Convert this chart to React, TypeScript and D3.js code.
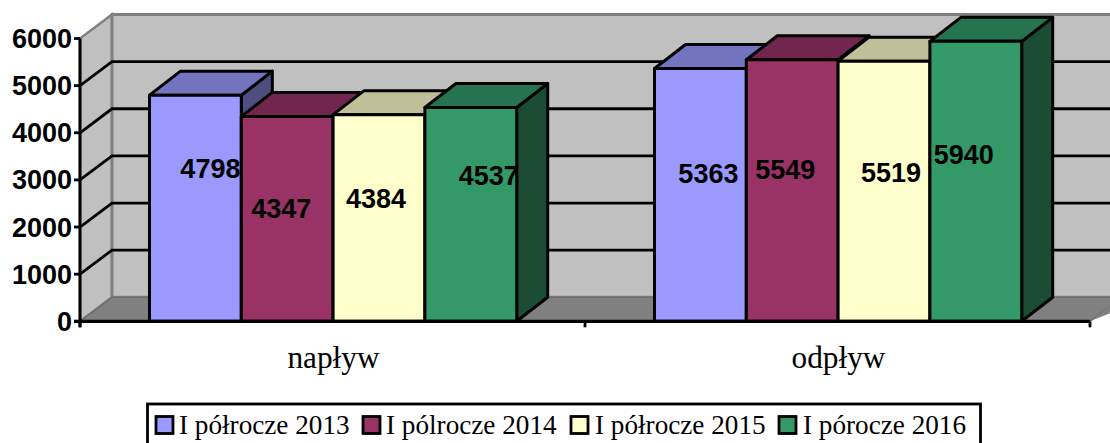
import React from "react";
import * as d3 from "d3";

const categories = ["napływ", "odpływ"];
const seriesNames = ["I półrocze 2013", "I pólrocze 2014", "I półrocze 2015", "I pórocze 2016"];
const values2013 = [4798, 5363];
const values2014 = [4347, 5549];
const values2015 = [4384, 5519];
const values2016 = [4537, 5940];
const seriesValues = [values2013, values2014, values2015, values2016];
const yTicks = [0, 1000, 2000, 3000, 4000, 5000, 6000];
const colors = ["#9999FF", "#993366", "#FFFFCC", "#339966"];
const topColors = ["#7373BF", "#73264D", "#BFBF99", "#267350"];
const sideColors = ["#4D4D80", "#4D1A33", "#808066", "#1A4D33"];
// label offset from the front-face centre and bar mid-height [dx, dy]
const labelNudges = [
  [[15, -39], [8, -21]],
  [[-6, -10], [-7, -21]],
  [[-3, -19], [7, -18]],
  [[18, -38], [-12, -26]],
];
const legendSwatchX = [156, 363, 571, 779];
const legendTextX = [179, 386, 595, 803];

const W = 1110, H = 443;
const x0 = 80, x1 = 1090, DX = 32, DY = 24;
const y = d3.scaleLinear().domain([0, 6000]).range([321.3, 38.5]);
const xCat = d3.scaleBand<string>().domain(categories).range([x0, x1]);
const barW = 91.8;
const pts = (a: number[][]) => a.map((p) => p.join(",")).join(" ");

export default function App() {
  const back = y(6000) - DY;
  const floor = y(0) - DY;
  return (
    <svg width={W} height={H} style={{ position: "absolute", left: 0, top: 0, background: "#fff" }}>
      <polygon points={pts([[x0, y(6000)], [x0 + DX, back], [x0 + DX, floor], [x0, y(0)]])} fill="#C0C0C0" stroke="#808080" strokeWidth={2.4} />
      <rect x={x0 + DX} y={back} width={W} height={floor - back} fill="#C0C0C0" stroke="#808080" strokeWidth={3} />
      <polygon points={pts([[x0, y(0)], [x0 + DX, floor], [x1 + DX, floor], [x1, y(0)]])} fill="#808080" stroke="#6e6e6e" strokeWidth={1.5} />
      <polygon points={pts([[x1, y(0)], [x1 + DX, floor], [W, floor], [W, y(0) - 8]])} fill="#808080" />
      {yTicks.filter((t) => t > 0 && t < 6000).map((t) => (
        <polyline key={t} points={pts([[x0, y(t)], [x0 + DX, y(t) - DY], [W, y(t) - DY]])} fill="none" stroke="#000" strokeWidth={2.8} />
      ))}
      {seriesNames.map((_, s) =>
        categories.map((c, i) => {
          const left = xCat(c)! + 69.5 + s * barW;
          const right = left + barW;
          const top = y(seriesValues[s][i]);
          const base = y(0);
          return (
            <g key={c + s} stroke="#000" strokeWidth={3} strokeLinejoin="round">
              <polygon points={pts([[right, top], [right + DX - 1, top - DY], [right + DX - 1, base - DY], [right, base]])} fill={sideColors[s]} />
              <polygon points={pts([[left, top], [left + DX - 1, top - DY], [right + DX - 1, top - DY], [right, top]])} fill={topColors[s]} />
              <rect x={left} y={top} width={barW} height={base - top} fill={colors[s]} />
            </g>
          );
        })
      )}
      <line x1={x0} y1={y(6000)} x2={x0} y2={y(0) + 6} stroke="#000" strokeWidth={3} />
      <line x1={x0 - 6} y1={y(0)} x2={x1} y2={y(0)} stroke="#000" strokeWidth={3.2} />
      {yTicks.map((t) => (
        <g key={t}>
          <line x1={x0 - 6} y1={y(t)} x2={x0} y2={y(t)} stroke="#000" strokeWidth={2.8} />
          <text x={x0 - 8} y={y(t) + 9.5} textAnchor="end" fontFamily="Liberation Sans" fontWeight={700} fontSize={27} fill="#000">{t}</text>
        </g>
      ))}
      {[x0, xCat(categories[1])!, x1].map((tx) => (
        <line key={tx} x1={tx} y1={y(0)} x2={tx} y2={y(0) + 6} stroke="#000" strokeWidth={2.8} />
      ))}
      {categories.map((c) => (
        <text key={c} x={xCat(c)! + xCat.bandwidth() / 2 + 1} y={368} textAnchor="middle" fontFamily="Liberation Serif" fontSize={31.3} fill="#000">{c}</text>
      ))}
      {seriesNames.map((_, s) =>
        categories.map((c, i) => {
          const cx = xCat(c)! + 69.5 + s * barW + barW / 2;
          const cy = (y(seriesValues[s][i]) + y(0)) / 2;
          const [dx, dy] = labelNudges[s][i];
          return (
            <text key={c + s} x={cx + dx} y={cy + dy + 9} textAnchor="middle" fontFamily="Liberation Sans" fontWeight={700} fontSize={27} fill="#000">{seriesValues[s][i]}</text>
          );
        })
      )}
      <rect x={147.5} y={404} width={833} height={50} fill="#fff" stroke="#000" strokeWidth={2.8} />
      {seriesNames.map((n, s) => (
        <g key={n}>
          <rect x={legendSwatchX[s]} y={416.5} width={17} height={17} fill={colors[s]} stroke="#000" strokeWidth={2.8} />
          <text x={legendTextX[s]} y={434} fontFamily="Liberation Serif" fontSize={27.2} fill="#000">{n}</text>
        </g>
      ))}
    </svg>
  );
}
